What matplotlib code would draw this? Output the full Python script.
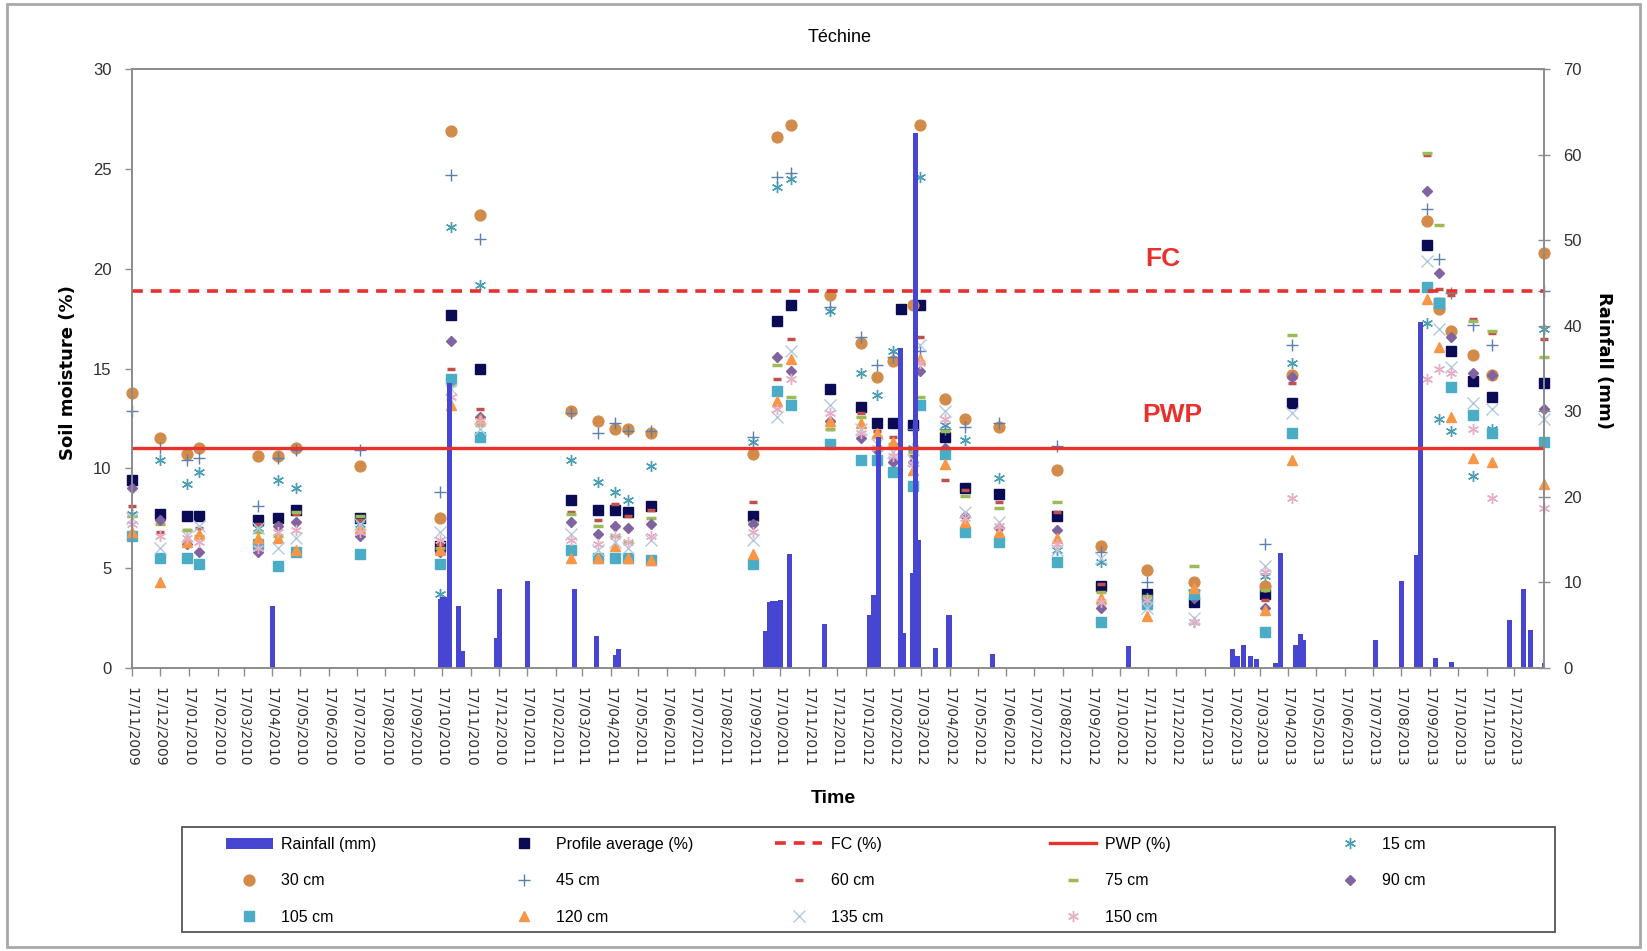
import matplotlib
matplotlib.use('Agg')
import matplotlib.pyplot as plt
import matplotlib.dates as mdates
from matplotlib.patches import Rectangle
import numpy as np
import pandas as pd

nan = np.nan

# soil moisture survey dates
dates = ['2009-11-17', '2009-12-17', '2010-01-15', '2010-01-28', '2010-04-02',
         '2010-04-23', '2010-05-13', '2010-07-20', '2010-10-15', '2010-10-27',
         '2010-11-27', '2011-03-05', '2011-04-03', '2011-04-22', '2011-05-06',
         '2011-05-30', '2011-09-18', '2011-10-13', '2011-10-28', '2011-12-10',
         '2012-01-12', '2012-01-29', '2012-02-16', '2012-02-24', '2012-03-08',
         '2012-03-16', '2012-04-12', '2012-05-03', '2012-06-09', '2012-08-11',
         '2012-09-27', '2012-11-16', '2013-01-05', '2013-03-23', '2013-04-21',
         '2013-09-14', '2013-09-27', '2013-10-10', '2013-11-02', '2013-11-23',
         '2014-01-18']

profile_avg = [9.4, 7.7, 7.6, 7.6, 7.4, 7.5, 7.9, 7.5, 6.1, 17.7,
               15.0, 8.4, 7.9, 7.9, 7.8, 8.1, 7.6, 17.4, 18.2, 14.0,
               13.1, 12.3, 12.3, 18.0, 12.2, 18.2, 11.6, 9.0, 8.7, 7.6,
               4.1, 3.7, 3.3, 3.7, 13.3, 21.2, 18.3, 15.9, 14.4, 13.6,
               14.3]
d15 = [7.7, 10.4, 9.2, 9.8, 7.0, 9.4, 9.0, 7.2, 3.7, 22.1,
       19.2, 10.4, 9.3, 8.8, 8.4, 10.1, 11.3, 24.1, 24.5, 17.9,
       14.8, 13.7, 15.9, nan, 11.0, 24.6, 12.2, 11.4, 9.5, 5.9,
       5.3, 3.5, 2.3, 4.6, 15.3, 17.3, 12.5, 11.9, 9.6, 12.0,
       17.0]
d30 = [13.8, 11.5, 10.7, 11.0, 10.6, 10.6, 11.0, 10.1, 7.5, 26.9,
       22.7, 12.9, 12.4, 12.0, 12.0, 11.8, 10.7, 26.6, 27.2, 18.7,
       16.3, 14.6, 15.4, nan, 18.2, 27.2, 13.5, 12.5, 12.1, 9.9,
       6.1, 4.9, 4.3, 4.1, 14.7, 22.4, 18.0, 16.9, 15.7, 14.7,
       20.8]
d45 = [12.9, 11.0, 10.4, 10.5, 8.1, 10.5, 10.9, 10.9, 8.8, 24.7,
       21.5, 12.8, 11.8, 12.3, 11.9, 11.9, 11.6, 24.6, 24.8, 18.1,
       16.6, 15.2, 15.6, nan, 12.0, 15.9, 12.0, 12.1, 12.3, 11.1,
       5.8, 4.3, 3.9, 6.2, 16.2, 23.0, 20.5, 18.8, 17.2, 16.2,
       18.9]
d60 = [8.1, 6.8, 6.9, 7.0, 7.2, 7.2, 7.7, 7.4, 6.2, 15.0,
       13.0, 7.8, 7.4, 8.2, 7.6, 7.9, 8.3, 14.5, 16.5, 12.0,
       12.8, 11.9, 11.6, nan, 10.6, 16.6, 9.4, 8.9, 8.3, 7.8,
       4.2, 3.5, 3.5, 3.4, 14.3, 25.7, 19.0, 18.7, 17.5, 16.8,
       16.5]
d75 = [7.6, 7.2, 6.9, 6.6, 6.8, 6.6, 7.8, 7.6, 6.0, 14.2,
       12.2, 7.7, 7.1, 6.6, 6.3, 7.5, 7.3, 15.2, 13.6, 12.0,
       12.6, 11.6, 11.2, nan, 10.8, 13.6, 11.9, 8.6, 8.0, 8.3,
       3.8, 3.6, 5.1, 3.9, 16.7, 25.8, 22.2, 18.9, 17.4, 16.9,
       15.6]
d90 = [9.0, 7.4, 6.2, 5.8, 5.8, 7.1, 7.3, 6.6, 5.8, 16.4,
       12.6, 7.3, 6.7, 7.1, 7.0, 7.2, 7.2, 15.6, 14.9, 12.4,
       11.5, 10.9, 10.3, nan, 10.3, 14.9, 11.0, 7.6, 7.0, 6.9,
       3.0, 3.2, 3.5, 3.0, 14.6, 23.9, 19.8, 16.6, 14.8, 14.7,
       13.0]
d105 = [6.6, 5.5, 5.5, 5.2, 6.2, 5.1, 5.8, 5.7, 5.2, 14.5,
        11.6, 5.9, 5.5, 5.5, 5.5, 5.4, 5.2, 13.9, 13.2, 11.2,
        10.4, 10.4, 9.8, nan, 9.1, 13.2, 10.7, 6.8, 6.3, 5.3,
        2.3, 3.2, 3.7, 1.8, 11.8, 19.1, 18.3, 14.1, 12.7, 11.8,
        11.3]
d120 = [6.8, 4.3, 6.3, 6.7, 6.5, 6.5, 5.9, 7.0, 5.9, 13.2,
        12.5, 5.5, 5.5, 6.1, 5.5, 5.4, 5.7, 13.4, 15.5, 12.4,
        12.3, 11.8, 11.3, nan, 9.9, 15.5, 10.2, 7.3, 6.8, 6.5,
        3.5, 2.6, 4.0, 2.9, 10.4, 18.5, 16.1, 12.6, 10.5, 10.3,
        9.2]
d135 = [7.5, 6.0, 6.6, 7.1, 7.0, 6.0, 6.5, 7.2, 6.8, 14.0,
        12.0, 6.7, 5.9, 6.3, 6.0, 6.4, 6.4, 12.6, 15.9, 13.2,
        12.0, 11.2, 10.8, nan, 10.4, 16.2, 12.9, 7.8, 7.3, 5.9,
        5.5, 3.0, 2.5, 5.1, 12.8, 20.4, 17.0, 15.1, 13.3, 13.0,
        12.5]
d150 = [7.2, 6.6, 6.5, 6.3, 6.0, 6.8, 6.9, 6.8, 6.4, 13.6,
        12.4, 6.4, 6.2, 6.6, 6.3, 6.6, 6.8, 13.0, 14.5, 12.8,
        11.8, 11.0, 10.6, nan, 10.2, 15.3, 12.5, 7.5, 7.1, 6.2,
        3.3, 3.4, 2.3, 4.8, 8.5, 14.5, 15.0, 14.8, 12.0, 8.5,
        8.0]

# daily rainfall (mm), rainy days only
rain_dates = ['2010-04-17', '2010-10-15', '2010-10-18', '2010-10-21', '2010-10-25',
              '2010-11-04', '2010-11-08', '2010-12-15', '2010-12-18', '2011-01-17',
              '2011-03-09', '2011-04-02', '2011-04-22', '2011-04-25', '2011-10-01',
              '2011-10-05', '2011-10-09', '2011-10-13', '2011-10-17', '2011-10-27',
              '2011-12-04', '2012-01-21', '2012-01-26', '2012-01-31', '2012-02-24',
              '2012-02-27', '2012-03-08', '2012-03-11', '2012-03-14', '2012-04-01',
              '2012-04-16', '2012-06-02', '2012-10-27', '2013-02-16', '2013-02-21',
              '2013-02-28', '2013-03-07', '2013-03-14', '2013-04-03', '2013-04-09',
              '2013-04-25', '2013-04-30', '2013-05-03', '2013-07-20', '2013-08-17',
              '2013-09-02', '2013-09-07', '2013-09-23', '2013-10-10', '2013-12-12',
              '2013-12-27', '2014-01-03', '2014-01-18']
rainfall = [7.2, 8.1, 8.3, 8.3, 33.3, 7.2, 2.0, 3.5, 9.2, 10.2,
            9.2, 3.7, 1.5, 2.2, 4.3, 7.7, 7.8, 7.8, 8.0, 13.3,
            5.2, 6.2, 8.5, 27.0, 37.4, 4.1, 11.1, 62.5, 15.0, 2.3,
            6.2, 1.6, 2.6, 2.2, 1.4, 2.7, 1.4, 1.0, 0.6, 13.4,
            2.7, 4.0, 3.3, 3.3, 10.2, 13.2, 40.4, 1.2, 0.7, 5.6,
            9.2, 4.4, 0.6]

fc = 18.9
pwp = 11.0
x_start, x_end = '2009-11-17', '2014-01-18'
tick_start, tick_end = '2009-11-17', '2013-12-17'

NARROW = ['Liberation Sans Narrow', 'Liberation Sans', 'DejaVu Sans']
GREY = '#8c8c8c'

series = [
    ('15 cm', d15, dict(marker=(6, 2, 0), color='#4a9fb5', ms=8, mew=1.0)),
    ('30 cm', d30, dict(marker='o', color='#d38b4a', ms=7.8)),
    ('45 cm', d45, dict(marker='+', color='#5b7fae', ms=9, mew=1.0)),
    ('60 cm', d60, dict(marker='_', color='#c0504d', ms=6, mew=2.5)),
    ('75 cm', d75, dict(marker='_', color='#9bbb59', ms=7, mew=2.5)),
    ('90 cm', d90, dict(marker='D', color='#8064a2', ms=5.5)),
    ('105 cm', d105, dict(marker='s', color='#4bacc6', ms=7)),
    ('120 cm', d120, dict(marker='^', color='#f79646', ms=7)),
    ('135 cm', d135, dict(marker='x', color='#b3c9e2', ms=8, mew=1.0)),
    ('150 cm', d150, dict(marker=(6, 2, 0), color='#e6aec3', ms=8, mew=1.0)),
]

t = pd.to_datetime(dates)
t_rain = pd.to_datetime(rain_dates)

fig = plt.figure(figsize=(16.47, 9.51), dpi=100)
ax = fig.add_axes([0.0804, 0.2976, 0.8571, 0.6295])
ax2 = ax.twinx()

avg_line, = ax.plot(t, profile_avg, linestyle='none', marker='s', color='#0b0b55',
                    ms=7, clip_on=False, label='Profile average (%)')
depth_lines = []
for name, vals, style in series:
    ln, = ax.plot(t, vals, linestyle='none', clip_on=False, label=name,
                  mfc=style['color'], mec=style['color'], **style)
    depth_lines.append(ln)

# rainfall sits on the secondary axis, drawn over the soil moisture points
bars = ax2.bar(t_rain, rainfall, width=5.5, color='#4646d2', linewidth=0,
               label='Rainfall (mm)')
fc_line, = ax2.plot(pd.to_datetime([x_start, x_end]), [fc, fc], transform=ax.transData,
                    color='#e8302c', lw=2.6, ls=(0, (3, 2.2)), label='FC (%)')
pwp_line, = ax2.plot(pd.to_datetime([x_start, x_end]), [pwp, pwp], transform=ax.transData,
                     color='#e8302c', lw=2.4, label='PWP (%)')

ax.set_xlim(pd.Timestamp(x_start), pd.Timestamp(x_end))
ax.set_ylim(0, 30)
ax2.set_ylim(0, 70)
ax.set_yticks(np.arange(0, 31, 5))
ax2.set_yticks(np.arange(0, 71, 10))

ticks = pd.date_range(tick_start, tick_end, freq=pd.DateOffset(months=1))
ax.set_xticks(ticks)
ax.xaxis.set_major_formatter(mdates.DateFormatter('%d/%m/%Y'))
for lab in ax.get_xticklabels():
    lab.set_rotation(-90)
    lab.set_fontfamily('DejaVu Sans')
    lab.set_fontsize(10)
    lab.set_color('#303030')

for a in (ax, ax2):
    for sp in a.spines.values():
        sp.set_color(GREY)
        sp.set_linewidth(1.2)
ax.tick_params(axis='x', direction='out', length=6, width=1, color=GREY, pad=8)
ax.tick_params(axis='y', direction='out', length=5, width=1, color=GREY, pad=10)
ax2.tick_params(axis='y', direction='inout', length=8, width=1, color=GREY, pad=10)
for lab in ax.get_yticklabels() + ax2.get_yticklabels():
    lab.set_fontfamily(NARROW)
    lab.set_fontsize(12)
    lab.set_color('#303030')

ax.text(pd.Timestamp('2012-12-03'), 20.5, 'FC', color='#e8302c', fontsize=19,
        fontweight='bold', family=NARROW, ha='center', va='center')
ax.text(pd.Timestamp('2012-12-13'), 12.7, 'PWP', color='#e8302c', fontsize=19,
        fontweight='bold', family=NARROW, ha='center', va='center')

fig.text(0.51, 0.961, 'Téchine', fontsize=13, family='Liberation Sans',
         ha='center', va='center')
fig.text(0.0415, 0.608, 'Soil moisture (%)', rotation=90, fontsize=13,
         fontweight='bold', family='DejaVu Sans', ha='center', va='center')
fig.text(0.974, 0.621, 'Rainfall (mm)', rotation=270, fontsize=13,
         fontweight='bold', family='DejaVu Sans', ha='center', va='center')
fig.text(0.506, 0.16, 'Time', fontsize=14, fontweight='bold',
         family='Liberation Sans', ha='center', va='center')

# legend laid out as a 5 x 3 grid of equal-width columns
columns = [
    [bars, depth_lines[1], depth_lines[6]],
    [avg_line, depth_lines[2], depth_lines[7]],
    [fc_line, depth_lines[3], depth_lines[8]],
    [pwp_line, depth_lines[4], depth_lines[9]],
    [depth_lines[0], depth_lines[5]],
]
col_x = [0.1374, 0.3042, 0.4708, 0.6375, 0.8055]
for x0, hs in zip(col_x, columns):
    fig.legend(hs, [h.get_label() for h in hs], loc='upper left',
               bbox_to_anchor=(x0, 0.1198), frameon=False,
               prop={'family': NARROW, 'size': 11.5}, labelspacing=1.33,
               handlelength=2.9, handletextpad=0.55, borderpad=0,
               borderaxespad=0, numpoints=1)

fig.patches.append(Rectangle((0.1105, 0.020), 0.8336, 0.1104, transform=fig.transFigure,
                             fill=False, edgecolor='#555555', lw=1.3))
fig.patches.append(Rectangle((0.0045, 0.004), 0.991, 0.9915, transform=fig.transFigure,
                             fill=False, edgecolor='#a8a8a8', lw=2))

fig.savefig('out.png', dpi=100, facecolor='white')
